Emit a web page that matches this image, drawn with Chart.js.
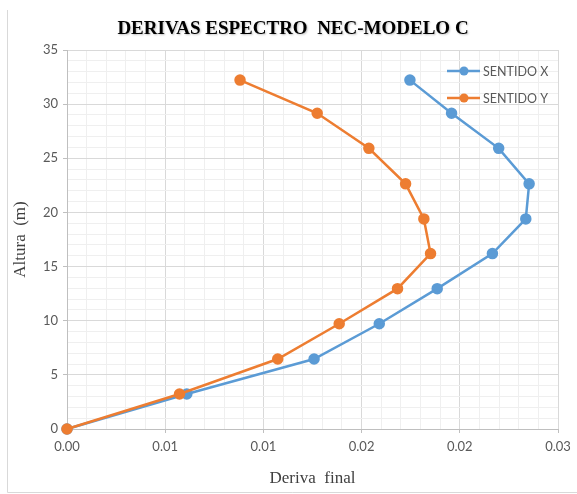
<!DOCTYPE html>
<html>
<head>
<meta charset="utf-8">
<script src="https://cdn.jsdelivr.net/npm/chart.js@4.4.1/dist/chart.umd.min.js"></script>
<style>
  html, body { margin: 0; padding: 0; background: #ffffff; }
  #wrap { width: 577px; height: 494px; position: relative; }
</style>
</head>
<body>
<div id="wrap"><canvas id="c" width="577" height="494"></canvas></div>
<script>
// Storey heights (m) and drifts per direction
const alturas = [0, 3.23, 6.46, 9.72, 12.96, 16.20, 19.40, 22.64, 25.92, 29.16, 32.22];
const sentidoX = [0, 0.00610, 0.01258, 0.01590, 0.01885, 0.02166, 0.02336, 0.02353, 0.02198, 0.01958, 0.01746];
const sentidoY = [0, 0.00573, 0.01073, 0.01386, 0.01683, 0.01851, 0.01817, 0.01724, 0.01537, 0.01274, 0.00881];
const seriesNames = ['SENTIDO X', 'SENTIDO Y'];
const xTickLabels = ['0.00', '0.01', '0.01', '0.02', '0.02', '0.03'];
const yTickLabels = ['0', '5', '10', '15', '20', '25', '30', '35'];

const toPoints = (xs) => xs.map((v, i) => ({ x: v, y: alturas[i] }));

const BLUE = '#5b9bd5';
const ORANGE = '#ed7d31';
const MAJOR = '#d9d9d9';
const MINOR = '#efefef';
const AXIS = '#bfbfbf';
const LABEL = '#595959';

const isMajorX = (v) => Math.abs(v / 0.005 - Math.round(v / 0.005)) < 1e-6;
const isMajorY = (v) => Math.abs(v / 5 - Math.round(v / 5)) < 1e-6;

// Frame, title and in-plot legend
const decor = {
  id: 'decor',
  beforeDraw(chart) {
    const ctx = chart.ctx;
    ctx.save();
    ctx.strokeStyle = '#d9d9d9';
    ctx.lineWidth = 1;
    ctx.beginPath();
    ctx.moveTo(7.5, 10);
    ctx.lineTo(7.5, 492.5);
    ctx.lineTo(577, 492.5);
    ctx.stroke();
    ctx.restore();
  },
  afterDraw(chart) {
    const ctx = chart.ctx;
    ctx.save();
    ctx.font = 'bold 19px "Liberation Serif", "Times New Roman", serif';
    ctx.fillStyle = '#000000';
    ctx.textAlign = 'center';
    ctx.textBaseline = 'middle';
    ctx.shadowColor = 'rgba(0,0,0,0.25)';
    ctx.shadowOffsetX = 1;
    ctx.shadowOffsetY = 1;
    ctx.shadowBlur = 2;
    ctx.fillText('DERIVAS ESPECTRO  NEC-MODELO C', 293, 29);
    ctx.restore();

    ctx.save();
    chart.data.datasets.forEach((ds, i) => {
      const y = 71 + i * 27;
      ctx.strokeStyle = ds.borderColor;
      ctx.lineWidth = 2.5;
      ctx.beginPath();
      ctx.moveTo(447, y);
      ctx.lineTo(480, y);
      ctx.stroke();
      ctx.fillStyle = ds.borderColor;
      ctx.beginPath();
      ctx.arc(464, y, 4.5, 0, Math.PI * 2);
      ctx.fill();
      ctx.font = '12.5px Lato, "Open Sans", sans-serif';
      ctx.fillStyle = LABEL;
      ctx.textAlign = 'left';
      ctx.textBaseline = 'middle';
      ctx.fillText(ds.label, 483, y + 1);
    });
    ctx.restore();
  }
};

new Chart(document.getElementById('c'), {
  type: 'scatter',
  data: {
    datasets: [
      {
        label: seriesNames[0],
        data: toPoints(sentidoX),
        showLine: true,
        borderColor: BLUE,
        backgroundColor: BLUE,
        borderWidth: 2.5,
        pointRadius: 4.5,
        pointHoverRadius: 4.5,
        tension: 0,
        clip: false,
        order: 1
      },
      {
        label: seriesNames[1],
        data: toPoints(sentidoY),
        showLine: true,
        borderColor: ORANGE,
        backgroundColor: ORANGE,
        borderWidth: 2.5,
        pointRadius: 4.5,
        pointHoverRadius: 4.5,
        tension: 0,
        clip: false,
        order: 0
      }
    ]
  },
  options: {
    responsive: false,
    animation: false,
    layout: { padding: { left: 0, top: 50, right: 19, bottom: 0 } },
    plugins: {
      legend: { display: false },
      title: { display: false },
      tooltip: { enabled: false }
    },
    scales: {
      x: {
        type: 'linear',
        min: 0,
        max: 0.025,
        afterFit(scale) { scale.height = 65; },
        afterBuildTicks(scale) {
          const t = [];
          for (let i = 0; i <= 25; i++) t.push({ value: i * 0.001 });
          scale.ticks = t;
        },
        ticks: {
          autoSkip: false,
          maxRotation: 0,
          padding: 6,
          color: LABEL,
          font: { family: 'Lato, "Open Sans", sans-serif', size: 13 },
          callback(v) {
            return isMajorX(v) ? xTickLabels[Math.round(v / 0.005)] : '';
          }
        },
        grid: {
          color: (c) => isMajorX(c.tick.value) ? MAJOR : MINOR,
          tickColor: (c) => isMajorX(c.tick.value) ? AXIS : 'rgba(0,0,0,0)',
          tickLength: 4,
          lineWidth: 1
        },
        border: { color: AXIS, width: 1 },
        title: {
          display: true,
          text: 'Deriva  final',
          color: '#404040',
          font: { family: '"Liberation Serif", "Times New Roman", serif', size: 17 },
          padding: { top: 0, bottom: 5 }
        }
      },
      y: {
        type: 'linear',
        min: 0,
        max: 35,
        afterFit(scale) { scale.width = 67; },
        afterBuildTicks(scale) {
          const t = [];
          for (let i = 0; i <= 35; i++) t.push({ value: i });
          scale.ticks = t;
        },
        ticks: {
          autoSkip: false,
          padding: 5,
          color: LABEL,
          font: { family: 'Lato, "Open Sans", sans-serif', size: 13 },
          callback(v) {
            return isMajorY(v) ? yTickLabels[Math.round(v / 5)] : '';
          }
        },
        grid: {
          color: (c) => isMajorY(c.tick.value) ? MAJOR : MINOR,
          tickColor: (c) => isMajorY(c.tick.value) ? AXIS : 'rgba(0,0,0,0)',
          tickLength: 4,
          lineWidth: 1
        },
        border: { color: AXIS, width: 1 },
        title: {
          display: true,
          text: 'Altura  (m)',
          color: '#404040',
          font: { family: '"Liberation Serif", "Times New Roman", serif', size: 17 },
          padding: { top: 10, bottom: 0 }
        }
      }
    }
  },
  plugins: [decor]
});
</script>
</body>
</html>
